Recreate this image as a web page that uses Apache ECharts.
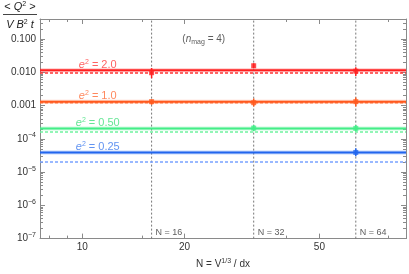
<!DOCTYPE html>
<html><head><meta charset="utf-8">
<script src="https://cdn.jsdelivr.net/npm/echarts@6/dist/echarts.min.js"></script>
<style>html,body{margin:0;padding:0;background:#fff}#c{width:409px;height:274px}</style>
</head><body><div id="c"></div>
<script>
// ---- data ----
const nValues = [16, 32, 64];
const nLabels = ['N = 16', 'N = 32', 'N = 64'];
const e2Labels = ['2.0', '1.0', '0.50', '0.25'];
const fitSolid = [0.0115, 0.0013, 2.05e-4, 3.9e-5];
const fitDashed = [0.0096, 0.00122, 1.6e-4, 2.0e-5];
// [N, value, low, high]
const ptsE20 = [[16, 0.0097, 0.0066, 0.0135], [32, 0.0157, 0.0135, 0.0188], [64, 0.0108, 0.0078, 0.0142]];
const ptsE10 = [[16, 0.00131, 0.00105, 0.00152], [32, 0.00122, 0.00093, 0.00163], [64, 0.00131, 0.00093, 0.00174]];
const ptsE05 = [[32, 2.1e-4, 1.7e-4, 2.6e-4], [64, 2.06e-4, 1.66e-4, 2.58e-4]];
const ptsE025 = [[64, 3.9e-5, 2.97e-5, 5.2e-5]];
const xMajorTicks = [10, 20, 50];
const xMinorTicks = [8, 9, 15, 40, 80];
const yMajorTicks = [1e-7, 1e-6, 1e-5, 1e-4, 1e-3, 1e-2, 1e-1];
const yMinorTicks = [];
for (let k = -7; k <= -1; k++) for (let m = 2; m <= 9; m++) { const v = m * Math.pow(10, k); if (v <= 0.4) yMinorTicks.push(+v.toPrecision(3)); }

const X_MIN = 7.5, X_MAX = 90, Y_MIN = 1e-7, Y_MAX = 0.4;
const lineColors = ['#ff2020', '#ff5a1f', '#44ee88', '#2266ee'];
const dashColors = ['#ff3535', '#ff8a5a', '#70f2a0', '#7aa2ff'];
const textColors = ['#ff3a3a', '#ff6a35', '#3ee07a', '#3a78ee'];
const pointSets = [ptsE20, ptsE10, ptsE05, ptsE025];

const FONT = 'Liberation Sans';
const frame = '#8a8a8a';

function xAxisDef(pos, major, showLine) {
  return {
    type: 'log', min: X_MIN, max: X_MAX, position: pos, gridIndex: 0,
    axisLine: { show: showLine, lineStyle: { color: frame, width: 1 } },
    axisTick: { show: true, inside: true, length: major ? 5 : 3, customValues: major ? xMajorTicks : xMinorTicks, lineStyle: { color: frame } },
    axisLabel: { show: false },
    splitLine: { show: false }, minorTick: { show: false }
  };
}
function yAxisDef(pos, major, showLine) {
  return {
    type: 'log', min: Y_MIN, max: Y_MAX, position: pos, gridIndex: 0,
    axisLine: { show: showLine, lineStyle: { color: frame, width: 1 } },
    axisTick: { show: true, inside: true, length: major ? 5 : 3, customValues: major ? yMajorTicks : yMinorTicks, lineStyle: { color: frame } },
    axisLabel: { show: false },
    splitLine: { show: false }, minorTick: { show: false }
  };
}

const xAxes = [xAxisDef('bottom', true, true), xAxisDef('top', true, true), xAxisDef('bottom', false, false), xAxisDef('top', false, false)];
xAxes[0].axisLabel = {
  show: true, customValues: xMajorTicks, margin: 4, color: '#333', fontSize: 10, fontFamily: FONT,
  formatter: v => String(Math.round(v))
};
xAxes[0].name = '{t|N = V}{s|1/3}{t| / dx}';
xAxes[0].nameLocation = 'middle';
xAxes[0].nameGap = 18;
xAxes[0].nameTextStyle = { rich: { t: { fontSize: 10, color: '#333', fontFamily: FONT, lineHeight: 13 }, s: { fontSize: 7, color: '#333', fontFamily: FONT, verticalAlign: 'top', lineHeight: 7 } } };

const yAxes = [yAxisDef('left', true, true), yAxisDef('right', true, true), yAxisDef('left', false, false), yAxisDef('right', false, false)];
yAxes[0].axisLabel = {
  show: true, customValues: yMajorTicks, margin: 4, color: '#333', fontFamily: FONT,
  formatter: v => {
    const e = Math.round(Math.log10(v));
    if (e >= -3) return '{n|' + Math.pow(10, e).toFixed(3) + '}';
    return '{n|10}{s|\u2212' + (-e) + '}';
  },
  rich: { n: { fontSize: 10, color: '#333', fontFamily: FONT, lineHeight: 14 }, s: { fontSize: 7, color: '#333', fontFamily: FONT, verticalAlign: 'top', lineHeight: 8 } }
};

const series = [];
// vertical dashed N lines
nValues.forEach(n => {
  series.push({
    type: 'line', silent: true, z: 2, showSymbol: false, symbol: 'none',
    data: [[n, Y_MIN], [n, Y_MAX]],
    lineStyle: { color: '#777', type: [2, 2], width: 1 }
  });
});
// N labels
series.push({
  type: 'scatter', symbolSize: 0, silent: true, z: 2,
  data: nValues.map((n, i) => ({ value: [n, 1.5e-7], name: nLabels[i] })),
  label: { show: true, position: 'right', distance: 4, formatter: p => p.name, fontSize: 9, color: '#333', fontFamily: FONT }
});
// (n_mag = 4)
series.push({
  type: 'scatter', symbolSize: 0, silent: true, z: 2,
  data: [[22.8, 0.1]],
  label: { show: true, position: 'inside', formatter: '{a|(}{i|n}{b|mag}{a| = 4)}',
    rich: { a: { fontSize: 10, color: '#333', fontFamily: FONT, lineHeight: 14 },
            i: { fontSize: 10, color: '#333', fontFamily: FONT, fontStyle: 'italic', lineHeight: 14 },
            b: { fontSize: 7, color: '#333', fontFamily: FONT, verticalAlign: 'bottom', lineHeight: 8 } } }
});
pointSets.forEach((pts, i) => {
  // dashed fit
  series.push({
    type: 'line', silent: true, z: 3, symbol: 'none',
    data: [[X_MIN, fitDashed[i]], [X_MAX, fitDashed[i]]],
    lineStyle: { color: dashColors[i], type: [3, 2], width: 1.5 }
  });
  // solid fit halo + line
  series.push({
    type: 'line', silent: true, z: 3, symbol: 'none',
    data: [[X_MIN, fitSolid[i]], [X_MAX, fitSolid[i]]],
    lineStyle: { color: lineColors[i], width: 4, opacity: 0.25 }
  });
  series.push({
    type: 'line', silent: true, z: 3, symbol: 'none',
    data: [[X_MIN, fitSolid[i]], [X_MAX, fitSolid[i]]],
    lineStyle: { color: lineColors[i], width: 2 }
  });
  // label
  series.push({
    type: 'scatter', symbolSize: 0, silent: true, z: 3,
    data: [[11.1, fitSolid[i]]],
    label: { show: true, position: 'top', distance: -1,
      formatter: '{i|e}{s|2}{a| = ' + e2Labels[i] + '}',
      rich: { a: { fontSize: 11, color: textColors[i], fontFamily: FONT, lineHeight: 13 },
              i: { fontSize: 11, color: textColors[i], fontFamily: FONT, fontStyle: 'italic', lineHeight: 13 },
              s: { fontSize: 7, color: textColors[i], fontFamily: FONT, verticalAlign: 'top', lineHeight: 8 } } }
  });
  // error bars (one vertical segment per point)
  pts.forEach(p => {
    series.push({
      type: 'line', silent: true, z: 6, symbol: 'none',
      data: [[p[0], p[2]], [p[0], p[3]]],
      lineStyle: { color: lineColors[i], width: 1.5 }
    });
  });
  // points
  series.push({
    type: 'scatter', z: 7, silent: true, symbol: 'rect', symbolSize: 5,
    itemStyle: { color: lineColors[i] },
    data: pts.map(p => [p[0], p[1]])
  });
});

const chart = echarts.init(document.getElementById('c'), null, { renderer: 'canvas' });
chart.setOption({
  animation: false,
  backgroundColor: '#fff',
  grid: { left: 40, right: 3, top: 19, bottom: 27, containLabel: false },
  xAxis: xAxes,
  yAxis: yAxes,
  series: series,
  graphic: [
    { type: 'text', x: 20, y: 7, style: { text: '{a|< }{i|Q}{s|2}{a| >}', align: 'center', verticalAlign: 'middle',
      rich: { a: { fontSize: 11, fill: '#222', fontFamily: FONT, lineHeight: 13 }, i: { fontSize: 11, fill: '#222', fontFamily: FONT, fontStyle: 'italic', lineHeight: 13 }, s: { fontSize: 7, fill: '#222', fontFamily: FONT, verticalAlign: 'top', lineHeight: 7 } } } },
    { type: 'line', shape: { x1: 3, y1: 14.5, x2: 37, y2: 14.5 }, style: { stroke: '#444', lineWidth: 1 } },
    { type: 'text', x: 20, y: 25, style: { text: '{i|V B}{s|2}{i| t}', align: 'center', verticalAlign: 'middle',
      rich: { i: { fontSize: 11, fill: '#222', fontFamily: FONT, fontStyle: 'italic', lineHeight: 13 }, s: { fontSize: 7, fill: '#222', fontFamily: FONT, verticalAlign: 'top', lineHeight: 7 } } } }
  ]
});
</script></body></html>
